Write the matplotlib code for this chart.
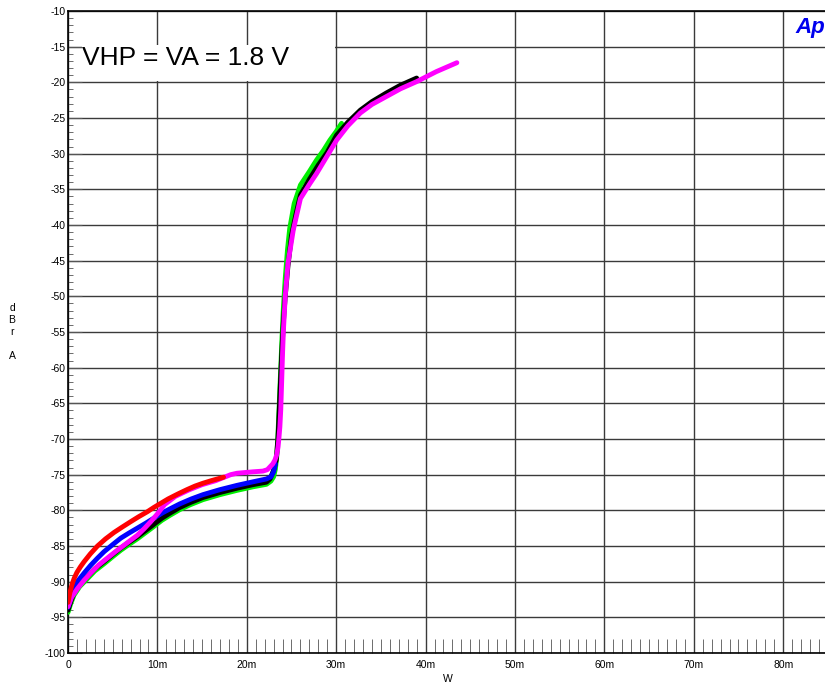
import numpy as np
import matplotlib
matplotlib.use('Agg')
import matplotlib.pyplot as plt
from matplotlib.patches import Rectangle
from matplotlib.ticker import MultipleLocator, FuncFormatter

plt.rcParams['font.family'] = ['Liberation Sans', 'DejaVu Sans']

# power in mW, level in dBrA
red_x = [0, 0.2, 0.45, 0.7, 1.0, 1.4, 1.8, 2.5, 3.3, 4.2, 5.15, 6.0, 7.0, 7.9, 8.87, 9.6, 10.4,
         11.2, 12.3, 13.3, 14.2, 15.1, 16.0, 17.0, 17.4]
red_y = [-92.9, -91.6, -90.4, -89.5, -88.7, -87.9, -87.2, -86.1, -85.0, -84.0, -83.1, -82.4, -81.6, -80.9, -80.2, -79.6, -79.0,
         -78.4, -77.7, -77.1, -76.6, -76.2, -75.85, -75.5, -75.35]

blue_x = [0, 0.3, 0.65, 1.04, 1.8, 2.54, 3.3, 4.03, 5.0, 5.9, 6.8, 7.75, 8.7, 9.6, 10.5, 11.4, 12.5,
          13.8, 15.1, 17.0, 18.9, 20.7, 22.2, 22.7, 23.0, 23.2]
blue_y = [-93.6, -92.4, -91.2, -90.0, -88.8, -87.7, -86.7, -85.8, -84.8, -83.9, -83.2, -82.5, -81.8, -81.1, -80.4, -79.8, -79.1,
          -78.4, -77.8, -77.1, -76.5, -76.0, -75.6, -75.3, -74.6, -73.5]

black_x = [0, 0.3, 0.67, 1.3, 2.16, 3.0, 4.03, 5.0, 5.9, 6.8, 7.75, 8.5, 9.25, 10.5, 11.4, 12.5, 13.7,
           15.1, 17.0, 18.9, 20.7, 22.2, 22.6, 22.8, 23.05, 23.3, 23.5, 23.65, 23.8, 23.95, 24.1, 24.3,
           24.6, 25.0, 25.5, 26.0, 27.0, 28.0, 29.0, 30.05, 31.3, 32.7, 34.0, 35.6, 37.2, 39.0]
black_y = [-94.0, -92.8, -91.6, -90.4, -89.3, -88.2, -87.2, -86.2, -85.3, -84.5, -83.7, -83.0, -82.3, -81.1, -80.4, -79.6, -78.9,
           -78.2, -77.5, -76.9, -76.4, -76.05, -75.6, -75.0, -74.2, -72.9, -69.7, -65.5, -61.0, -57.0, -53.5, -50.0,
           -45.8, -41.5, -38.5, -35.8, -33.6, -31.6, -29.8, -27.4, -25.6, -23.9, -22.7, -21.5, -20.4, -19.4]

green_x = [0, 0.3, 0.67, 1.3, 2.16, 3.0, 4.03, 5.0, 5.9, 6.8, 7.75, 8.5, 9.25, 10.5, 11.4, 12.5, 13.7,
           15.1, 17.0, 18.9, 20.7, 22.2, 22.7, 23.0, 23.2, 23.35, 23.5, 23.65, 23.8, 23.95, 24.1, 24.3,
           24.55, 24.8, 25.3, 26.0, 27.0, 27.8, 28.6, 29.3, 30.0, 30.6]
green_y = [-94.3, -93.1, -91.9, -90.7, -89.6, -88.5, -87.5, -86.5, -85.6, -84.8, -84.0, -83.3, -82.6, -81.4, -80.7, -79.9, -79.2,
           -78.5, -77.8, -77.2, -76.7, -76.35, -75.9, -75.3, -74.2, -72.5, -69.0, -64.5, -60.0, -55.5, -51.5, -47.5,
           -43.5, -40.5, -37.0, -34.4, -32.5, -30.9, -29.5, -28.1, -26.9, -25.75]

magenta_x = [0, 0.4, 1.04, 1.8, 2.54, 3.4, 4.4, 5.3, 6.26, 7.0, 7.75, 8.5, 9.25, 10.0, 10.8,
             12.0, 13.5, 15.0, 16.5, 17.4, 18.2, 18.9, 19.8, 20.7, 21.8, 22.3, 22.6, 22.9, 23.15, 23.35,
             23.5, 23.6, 23.7, 23.8, 23.9, 24.0, 24.1, 24.3, 24.6, 25.2, 26.0, 27.0, 27.8, 29.0, 30.05,
             31.3, 32.7, 34.0, 35.6, 37.2, 39.0, 41.2, 43.5]
magenta_y = [-93.5, -92.2, -91.0, -89.8, -88.8, -87.7, -86.7, -85.8, -84.9, -84.2, -83.5, -82.6, -81.6, -80.5, -79.2,
             -78.05, -77.15, -76.4, -75.85, -75.4, -75.0, -74.8, -74.7, -74.6, -74.5, -74.3, -73.9, -73.5, -72.95, -72.2,
             -71.1, -69.8, -68.3, -65.9, -62.0, -58.0, -54.7, -50.0, -45.4, -40.7, -36.3, -34.3, -32.8, -30.3, -28.1,
             -26.1, -24.3, -23.1, -22.0, -20.9, -19.9, -18.5, -17.25]

series = [
    (green_x, green_y, '#00ee00'),
    (black_x, black_y, '#000000'),
    (blue_x, blue_y, '#0000ff'),
    (magenta_x, magenta_y, '#ff00ff'),
    (red_x, red_y, '#ff0000'),
]

fig = plt.figure(figsize=(8.25, 6.85), dpi=100)
# the plot frame runs on past the right edge of the picture
ax = fig.add_axes([68 / 825, 32 / 685, 757 / 825, 642 / 685])

for xs, ys, col in series:
    ax.plot(np.array(xs) / 1000.0, ys, color=col, lw=3.5, solid_capstyle='round',
            solid_joinstyle='round', zorder=4)

ax.set_xlim(0, 0.08468)
ax.set_ylim(-100, -10)

ax.xaxis.set_major_locator(MultipleLocator(0.01))
ax.xaxis.set_minor_locator(MultipleLocator(0.001))
ax.yaxis.set_major_locator(MultipleLocator(5))
ax.yaxis.set_minor_locator(MultipleLocator(1))
ax.xaxis.set_major_formatter(FuncFormatter(lambda v, p: '0' if abs(v) < 1e-9 else f'{int(round(v * 1000))}m'))
ax.yaxis.set_major_formatter(FuncFormatter(lambda v, p: f'{int(v)}'))

ax.grid(True, which='major', color='#3a3a3a', lw=1.0, zorder=1)
ax.tick_params(axis='both', which='both', direction='in', colors='#555555', labelcolor='black', labelsize=7.5)
ax.tick_params(axis='y', which='major', length=10, pad=2)
ax.tick_params(axis='y', which='minor', length=3.6)
ax.tick_params(axis='x', which='major', length=0, pad=5)
ax.tick_params(axis='x', which='minor', length=10)

for s in ['left', 'bottom', 'top']:
    ax.spines[s].set_color('black')
    ax.spines[s].set_linewidth(1.2)
ax.spines['right'].set_visible(False)

# white panel behind the annotation
ax.add_patch(Rectangle((0.00157, -19.85), 0.0283, 5.1, facecolor='white', edgecolor='none', zorder=2))
ax.text(0.00157, -17.6, 'VHP = VA = 1.8 V', fontsize=19, va='baseline', ha='left', zorder=3)

fig.text(448 / 825, 1 - 679 / 685, 'W', fontsize=7.5, ha='center', va='center')
fig.text(12 / 825, 1 - 332 / 685, 'd\nB\nr\n\nA', fontsize=7.5, ha='center', va='center', linespacing=1.25)
fig.text(795 / 825, 1 - 28 / 685, 'Ap', fontsize=16, fontweight='bold', fontstyle='italic',
         color='#0000ee', ha='left', va='center')

fig.savefig('out.png', dpi=100)
